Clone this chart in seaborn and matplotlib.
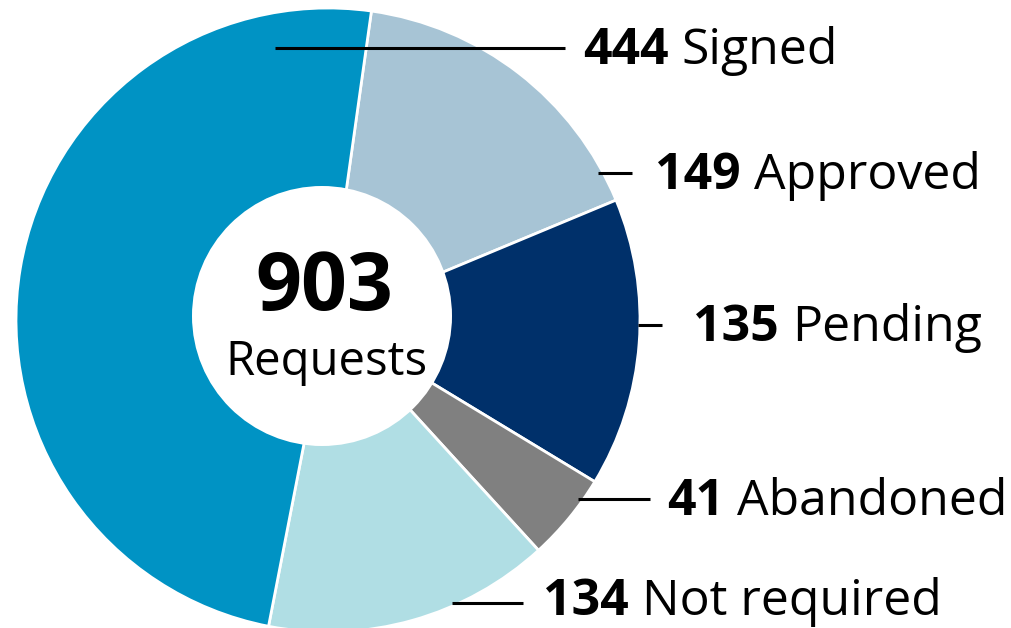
import matplotlib.pyplot as plt
import numpy as np
import seaborn as sns
from matplotlib.patches import Circle

categories = ["Signed", "Approved", "Pending", "Abandoned", "Not required"]
counts = [444, 149, 135, 41, 134]
colors = ["#0093c4", "#a7c4d5", "#00306a", "#808080", "#b0dee4"]
center_label = "Requests"

W, H = 1012, 628
sns.set_theme(style="white")
plt.rcParams["font.family"] = ["Open Sans", "DejaVu Sans"]
plt.rcParams["text.color"] = "black"

fig = plt.figure(figsize=(W / 100, H / 100), dpi=100)
ax = fig.add_axes([0, 0, 1, 1])

# wedges go clockwise starting with Approved, Signed closes the ring
order = [1, 2, 3, 4, 0]
ax.pie([counts[i] for i in order], colors=[colors[i] for i in order],
       startangle=82, counterclock=False, radius=1,
       wedgeprops=dict(edgecolor="white", linewidth=2))

# pie centre / radius in pixels
cx, cy, r = 328, 320, 312
ax.set_xlim(-cx / r, (W - cx) / r)
ax.set_ylim(-(H - cy) / r, cy / r)
ax.set_aspect("auto")
ax.axis("off")

# the hole sits a touch up-left of the ring centre in the original
ax.add_patch(Circle(((322 - cx) / r, (cy - 316) / r), 130 / r,
                    facecolor="white", edgecolor="none", zorder=3))


def px(x, y):
    return x / W, 1 - y / H


# leader line x0, x1, y, text x, baseline offset (pixels from top-left)
layout = [(275, 565, 48, 583, 16),
          (598, 632, 173, 655, 16),
          (638, 662, 325, 693, 16),
          (578, 650, 499, 667, 16),
          (452, 523, 603, 543, 12)]

fs = 36
renderer = fig.canvas.get_renderer()
for cat, n, (x0, x1, ly, tx, dy) in zip(categories, counts, layout):
    ax.plot([x0 / W, x1 / W], [1 - ly / H] * 2, color="black", lw=2.2,
            transform=ax.transAxes, solid_capstyle="butt", zorder=4)
    t = ax.text(*px(tx, ly + dy), str(n), transform=ax.transAxes,
                fontsize=fs, fontweight="bold", ha="left", va="baseline")
    bb = t.get_window_extent(renderer)
    ax.text((bb.x1 + 13) / W, 1 - (ly + dy) / H, cat, transform=ax.transAxes,
            fontsize=fs, ha="left", va="baseline")

ax.text(*px(324, 310), str(sum(counts)), transform=ax.transAxes,
        fontsize=58, fontweight="bold", ha="center", va="baseline", zorder=5)
ax.text(*px(326, 375), center_label, transform=ax.transAxes,
        fontsize=34, ha="center", va="baseline", zorder=5)

fig.savefig("out.png", dpi=100)
